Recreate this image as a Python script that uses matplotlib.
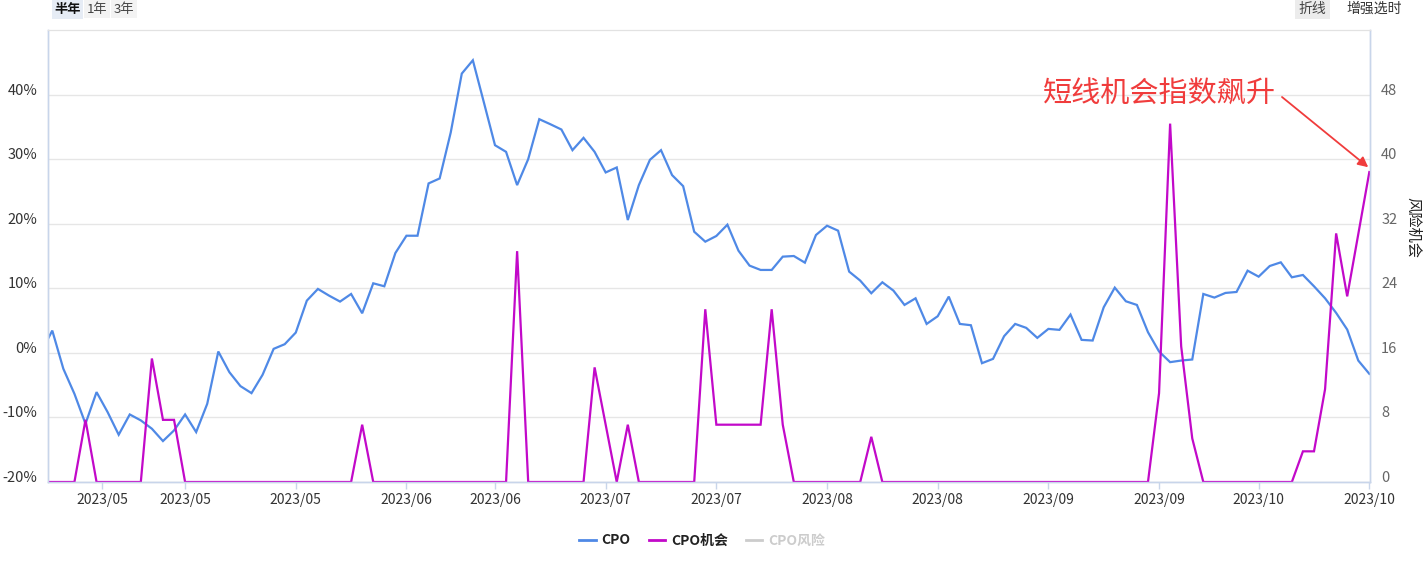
import numpy as np
import matplotlib
matplotlib.use('Agg')
import matplotlib.pyplot as plt
from matplotlib.lines import Line2D

plt.rcParams['font.family'] = ['Noto Sans CJK SC', 'DejaVu Sans']
plt.rcParams['axes.unicode_minus'] = False

# ---- data (index -1 is the clipped point left of the axis) ----
days = np.arange(-1, 120)
cpo = [0.15,
       3.45, -2.47, -6.34, -10.98, -6.08, -9.18, -12.68, -9.54, -10.46, -11.75,
       -13.66, -12.01, -9.54, -12.27, -7.89, 0.21, -2.99, -5.15, -6.24, -3.40,
       0.62, 1.34, 3.14, 8.09, 9.90, 8.87, 7.94, 9.12, 6.13, 10.77,
       10.31, 15.46, 18.14, 18.14, 26.24, 27.01, 34.12, 43.25, 45.31, 38.76,
       32.16, 31.13, 25.98, 30.0, 36.19, 35.41, 34.59, 31.39, 33.30, 31.13,
       27.94, 28.71, 20.57, 25.98, 29.90, 31.39, 27.53, 25.82, 18.76, 17.22,
       18.1, 19.85, 15.82, 13.51, 12.84, 12.84, 14.90, 15.0, 13.97, 18.25,
       19.69, 18.92, 12.58, 11.19, 9.23, 10.93, 9.64, 7.42, 8.45, 4.48,
       5.67, 8.71, 4.48, 4.28, -1.60, -0.93, 2.58, 4.48, 3.87, 2.32,
       3.71, 3.56, 5.93, 2.01, 1.91, 7.06, 10.10, 7.99, 7.42, 3.20,
       0.21, -1.44, -1.19, -1.03, 9.12, 8.56, 9.28, 9.43, 12.73, 11.80,
       13.45, 14.02, 11.70, 12.06, 10.31, 8.45, 6.19, 3.61, -1.19, -3.25]
cpo_opp = [0,
           0, 0, 0, 7.7, 0, 0, 0, 0, 0, 15.3,
           7.7, 7.7, 0, 0, 0, 0, 0, 0, 0, 0,
           0, 0, 0, 0, 0, 0, 0, 0, 7.1, 0,
           0, 0, 0, 0, 0, 0, 0, 0, 0, 0,
           0, 0, 28.6, 0, 0, 0, 0, 0, 0, 14.2,
           7.1, 0, 7.1, 0, 0, 0, 0, 0, 0, 21.4,
           7.1, 7.1, 7.1, 7.1, 7.1, 21.4, 7.1, 0, 0, 0,
           0, 0, 0, 0, 5.6, 0, 0, 0, 0, 0,
           0, 0, 0, 0, 0, 0, 0, 0, 0, 0,
           0, 0, 0, 0, 0, 0, 0, 0, 0, 0,
           11.0, 44.4, 16.8, 5.4, 0, 0, 0, 0, 0, 0,
           0, 0, 0, 3.8, 3.8, 11.5, 30.8, 23.0, 30.7, 38.4]

tick_pos = [4.5, 12, 22, 32, 40, 50, 60, 70, 80, 90, 100, 109, 119]
tick_labels = ['2023/05', '2023/05', '2023/05', '2023/06', '2023/06', '2023/07',
               '2023/07', '2023/08', '2023/08', '2023/09', '2023/09', '2023/10', '2023/10']
left_ticks = [-20, -10, 0, 10, 20, 30, 40]
right_ticks = [0, 8, 16, 24, 32, 40, 48]

BLUE = '#4f89e6'
MAGENTA = '#c209c9'
AXIS = '#c8d5ea'
RED = '#f03c3c'

W, H = 1423, 564
fig = plt.figure(figsize=(W / 100, H / 100), dpi=100)
ax = fig.add_axes([48.3 / W, 1 - 482 / H, (1370 - 48.3) / W, (482 - 30) / H])
ax2 = ax.twinx()

ax.plot(days, cpo, color=BLUE, lw=1.6, solid_joinstyle='miter')
ax2.plot(days, cpo_opp, color=MAGENTA, lw=1.6, solid_joinstyle='miter')

ax.set_xlim(-0.36, 119.06)
ax.set_ylim(-20, 50)
ax2.set_ylim(0, 56)

ax.set_yticks(left_ticks)
ax.set_yticklabels([f'{v}%' for v in left_ticks])
ax2.set_yticks(right_ticks)
ax2.set_yticklabels([str(v) for v in right_ticks])
ax.set_xticks(tick_pos)
ax.set_xticklabels(tick_labels)

ax.grid(axis='y', color='#e6e6e6', lw=1)
ax.set_axisbelow(True)

for a in (ax, ax2):
    for s in ('left', 'right', 'bottom'):
        a.spines[s].set_color(AXIS)
        a.spines[s].set_linewidth(1)
    a.spines['top'].set_color('#e2e2e2')

ax.tick_params(axis='y', length=0, pad=8, labelsize=10.5, labelcolor='#333333')
ax.tick_params(axis='x', length=5, width=1, color=AXIS, pad=3, labelsize=10, labelcolor='#333333')
ax2.tick_params(axis='y', length=0, pad=8, labelsize=10.5, labelcolor='#666666')
plt.setp(ax.get_yticklabels(), va='baseline')
plt.setp(ax2.get_yticklabels(), va='baseline')

fig.text(1413 / W, 1 - 227 / H, '风险机会', rotation=270, ha='center', va='center',
         fontsize=11, color='#222222')

# annotation
fig.text(1043 / W, 1 - 95 / H, '短线机会指数飙升', ha='left', va='center',
         fontsize=21, color=RED)
ax2.annotate('', xy=(days[-1] - 0.1, cpo_opp[-1] + 0.6), xycoords='data',
             xytext=(1282 / W, 1 - 97 / H), textcoords='figure fraction',
             arrowprops=dict(arrowstyle='-|>', color=RED, lw=1.3,
                             mutation_scale=15, shrinkA=0, shrinkB=0))

# top buttons
fig.text(67.5 / W, 1 - 9 / H, '半年', ha='center', va='center', fontsize=9.5,
         fontweight='bold', color='#111111',
         bbox=dict(boxstyle='square,pad=0.2', fc='#e6ecf5', ec='none'))
fig.text(97 / W, 1 - 9 / H, '1年', ha='center', va='center', fontsize=9.5, color='#444444',
         bbox=dict(boxstyle='square,pad=0.2', fc='#f3f3f3', ec='none'))
fig.text(124 / W, 1 - 9 / H, '3年', ha='center', va='center', fontsize=9.5, color='#444444',
         bbox=dict(boxstyle='square,pad=0.2', fc='#f3f3f3', ec='none'))
fig.text(1312.5 / W, 1 - 9 / H, '折线', ha='center', va='center', fontsize=10, color='#444444',
         bbox=dict(boxstyle='square,pad=0.25', fc='#ececec', ec='none'))
fig.text(1374 / W, 1 - 9 / H, '增强选时', ha='center', va='center', fontsize=10, color='#333333')

# legend
handles = [Line2D([], [], color=BLUE, lw=2),
           Line2D([], [], color=MAGENTA, lw=2),
           Line2D([], [], color='#cccccc', lw=2)]
leg = fig.legend(handles, ['CPO', 'CPO机会', 'CPO风险'], loc='center',
                 bbox_to_anchor=(702 / W, 1 - 540.5 / H), ncol=3, frameon=False,
                 fontsize=10, handlelength=1.2, handletextpad=0.4, columnspacing=1.3)
for t in leg.get_texts():
    t.set_fontweight('bold')
    t.set_color('#222222')
leg.get_texts()[2].set_color('#cccccc')

fig.savefig('out.png', dpi=100)
